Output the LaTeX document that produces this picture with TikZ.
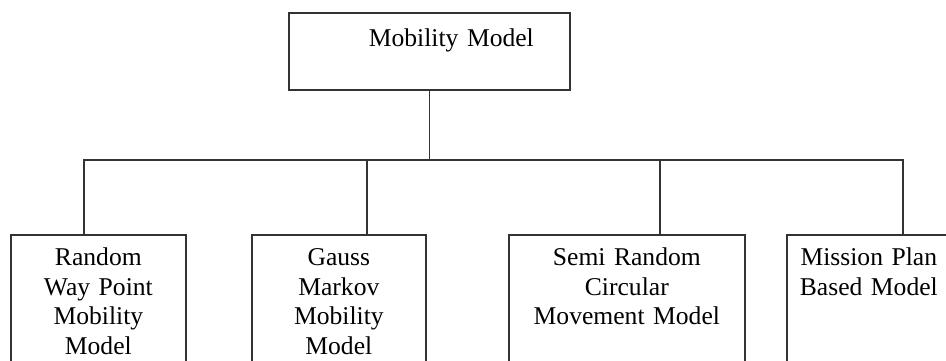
\documentclass[tikz,border=0pt]{standalone}
\usepackage{fontspec}
\setmainfont{Liberation Serif}
\usetikzlibrary{positioning}

\begin{document}
\begin{tikzpicture}[x=1pt, y=-1pt,
                    root/.style = {
                        rectangle, draw=black!80, line width=1.7pt,
                        inner sep=0pt, anchor=north west,
                        text width=281pt, align=left,
                        text height=34pt, text depth=43pt,
                        font=\fontsize{25.6}{30}\selectfont
                      },
                    leaf/.style = {
                        rectangle, draw=black!80, line width=1.7pt,
                        inner sep=0pt, anchor=north west,
                        text width=#1, align=center,
                        text height=31pt, text depth=150pt,
                        font=\fontsize{25.6}{29.5}\selectfont
                      },
                    link/.style = {
                        draw=black!80, line width=1.7pt
                      }]
    \useasboundingbox (0,0) rectangle (946,360);

    \node(model)[root] at (288,12) {\hspace*{80pt}Mobility Model};

    \node(rwp) [leaf=175pt] at (10,234) {Random\\Way Point\\Mobility\\Model};
    \node(gm)  [leaf=174pt] at (251,234) {Gauss\\Markov\\Mobility\\Model};
    \node(src) [leaf=236pt] at (508,234) {Semi Random\\Circular\\Movement Model};
    \node(mp)  [leaf=164pt] at (786,234) {Mission Plan\\Based Model};

    % branch points on the box tops
    \coordinate (rwptap) at (84,234);
    \coordinate (gmtap) at (367,234);
    \coordinate (srctap) at (660,234);
    \coordinate (mptap) at (903,234);
    \coordinate (busy) at (0,160);
    \coordinate (hub) at (model.south |- busy);

    \path[link] (model.south) edge (hub);
    \foreach \tap in {rwptap,gmtap,srctap,mptap}
      \draw[link] (\tap) |- (hub);
  \end{tikzpicture}
\end{document}
